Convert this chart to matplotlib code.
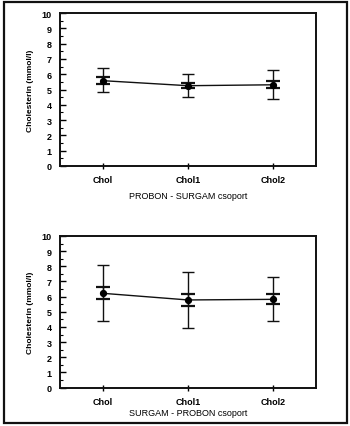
import numpy as np
import matplotlib.pyplot as plt
from matplotlib.patches import Rectangle
from matplotlib.ticker import MultipleLocator

plt.rcParams['font.family'] = ['Liberation Sans', 'DejaVu Sans']

categories = ["Chol", "Chol1", "Chol2"]
yticks = list(range(0, 11))

# PROBON - SURGAM group
top_mean = [5.58, 5.25, 5.31]
top_sd_lo = [4.82, 4.51, 4.38]
top_sd_hi = [6.38, 6.03, 6.29]
top_se_lo = [5.36, 5.08, 5.08]
top_se_hi = [5.80, 5.42, 5.58]

# SURGAM - PROBON group
bot_mean = [6.22, 5.78, 5.82]
bot_sd_lo = [4.41, 3.93, 4.41]
bot_sd_hi = [8.10, 7.62, 7.27]
bot_se_lo = [5.84, 5.40, 5.51]
bot_se_hi = [6.61, 6.17, 6.15]


def draw_panel(ax, mean, sd_lo, sd_hi, se_lo, se_hi, xlabel, xpad):
    x = np.arange(len(categories))
    mean = np.array(mean)
    ax.errorbar(x, mean, yerr=[mean - np.array(sd_lo), np.array(sd_hi) - mean],
                fmt='none', ecolor='#111111', elinewidth=1.0, capsize=4, capthick=1.0)
    ax.errorbar(x, mean, yerr=[mean - np.array(se_lo), np.array(se_hi) - mean],
                fmt='none', ecolor='#111111', elinewidth=1.0, capsize=5, capthick=1.6)
    ax.plot(x, mean, color='#111111', lw=1.0, marker='o', ms=4.2, mfc='black', mec='black')

    ax.set_xlim(-0.5, 2.5)
    ax.set_ylim(0, 10)
    ax.set_xticks(x)
    ax.set_xticklabels(categories, fontsize=6.5, fontweight='bold')
    ax.set_yticks(yticks)
    ax.set_yticklabels([str(t) for t in yticks], fontsize=6.5, fontweight='bold')
    ax.yaxis.set_minor_locator(MultipleLocator(0.5))
    ax.tick_params(axis='y', which='major', direction='in', length=4, width=1, pad=6)
    ax.tick_params(axis='y', which='minor', direction='in', length=2, width=0.8)
    ax.tick_params(axis='x', direction='inout', length=5, width=1, pad=4)
    ax.set_ylabel("Cholesterin (mmol/l)", fontsize=6, fontweight='bold', labelpad=5)
    ax.set_xlabel(xlabel, fontsize=6.5, labelpad=xpad)
    for s in ax.spines.values():
        s.set_linewidth(1.4)
        s.set_color('#111111')


fig = plt.figure(figsize=(3.5, 4.27), dpi=100)
ax1 = fig.add_axes([0.171, 0.609, 0.732, 0.358])
ax2 = fig.add_axes([0.171, 0.090, 0.732, 0.355])

draw_panel(ax1, top_mean, top_sd_lo, top_sd_hi, top_se_lo, top_se_hi, "PROBON - SURGAM csoport", 5)
draw_panel(ax2, bot_mean, bot_sd_lo, bot_sd_hi, bot_se_lo, bot_se_hi, "SURGAM - PROBON csoport", 1.5)

fig.patches.append(Rectangle((0.011, 0.007), 0.980, 0.986, transform=fig.transFigure,
                             fill=False, lw=1.6, ec='#111111'))

fig.savefig("out.png", dpi=100)
